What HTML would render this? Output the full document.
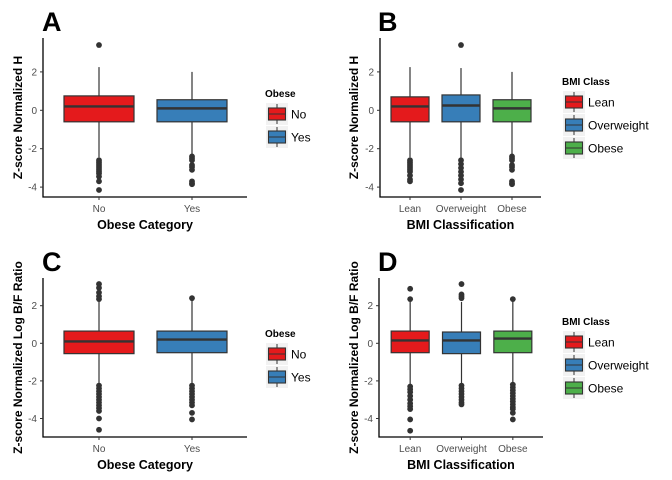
<!DOCTYPE html>
<html><head><meta charset="utf-8"><style>
body{margin:0;background:#fff}
svg{display:block;font-family:"Liberation Sans",sans-serif}
</style></head><body>
<svg id="chart" width="672" height="480" viewBox="0 0 672 480"></svg>
<script>
const panelLetters=["A","B","C","D"];
const categoriesA=["No","Yes"];
const categoriesB=["Lean","Overweight","Obese"];
const yTicks=[2,0,-2,-4];
const colors=["#E41A1C","#377EB8","#4DAF4A"];
// [q1, median, q3, lowWhisker, highWhisker]
const statsA=[[-0.6,0.2,0.75,-2.45,2.25],[-0.6,0.1,0.55,-2.3,2.0]];
const outliersA=[[3.4,-2.6,-2.7,-2.8,-2.9,-3.0,-3.1,-3.2,-3.3,-3.45,-3.7,-4.15],[-2.4,-2.5,-2.6,-2.85,-2.95,-3.1,-3.7,-3.8,-3.85]];
const statsB=[[-0.6,0.2,0.7,-2.45,2.25],[-0.6,0.25,0.8,-2.5,2.2],[-0.6,0.1,0.55,-2.3,2.0]];
const outliersB=[[-2.6,-2.7,-2.8,-2.9,-3.0,-3.1,-3.2,-3.4,-3.6,-3.7],[3.4,-2.6,-2.8,-3.0,-3.2,-3.4,-3.6,-3.8,-4.15],[-2.4,-2.5,-2.6,-2.85,-2.95,-3.1,-3.7,-3.8,-3.85]];
const statsC=[[-0.55,0.1,0.65,-2.2,2.3],[-0.5,0.2,0.65,-2.2,2.3]];
const outliersC=[[3.15,2.95,2.7,2.5,2.35,-2.25,-2.4,-2.55,-2.7,-2.85,-3.0,-3.15,-3.3,-3.45,-3.6,-4.0,-4.6],[2.4,-2.25,-2.4,-2.55,-2.7,-2.85,-3.0,-3.15,-3.3,-3.7,-4.05]];
const statsD=[[-0.5,0.15,0.65,-2.2,2.3],[-0.55,0.15,0.6,-2.2,2.2],[-0.5,0.25,0.65,-2.2,2.3]];
const outliersD=[[2.9,2.35,-2.3,-2.45,-2.6,-2.8,-3.0,-3.2,-3.35,-3.5,-4.05,-4.65],[3.15,2.6,2.5,2.4,-2.25,-2.4,-2.55,-2.7,-2.85,-3.0,-3.15,-3.25],[2.35,-2.2,-2.35,-2.5,-2.65,-2.8,-2.95,-3.1,-3.25,-3.4,-3.5,-3.7,-4.05]];
const yTitles=["Z-score Normalized H","Z-score Normalized H","Z-score Normalized Log B/F Ratio","Z-score Normalized Log B/F Ratio"];
const xTitles=["Obese Category","BMI Classification","Obese Category","BMI Classification"];
const legendTitles=["Obese","BMI Class","Obese","BMI Class"];

const NS="http://www.w3.org/2000/svg";
const svg=document.getElementById("chart");
function mk(tag,attrs,parent,text){const e=document.createElementNS(NS,tag);for(const k in attrs)e.setAttribute(k,attrs[k]);if(text!==undefined)e.textContent=text;parent.appendChild(e);return e;}

const layouts=[
 {ox:0,oy:0,ax0:43,ax1:247,c0:52.5,c1:238.5,top:38,bot:197,zero:110.3,k:19.2,bw:70,legX:266},
 {ox:336,oy:0,ax0:44,ax1:205,c0:48.5,c1:201.5,top:38,bot:197,zero:110.3,k:19.2,bw:38,legX:227},
 {ox:0,oy:240,ax0:43,ax1:247,c0:52.5,c1:238.5,top:38,bot:197,zero:103.3,k:18.8,bw:70,legX:266},
 {ox:336,oy:240,ax0:43,ax1:207,c0:48.5,c1:202.5,top:38,bot:197,zero:103.3,k:18.8,bw:38,legX:227}
];
const allStats=[statsA,statsB,statsC,statsD];
const allOut=[outliersA,outliersB,outliersC,outliersD];
const allCats=[categoriesA,categoriesB,categoriesA,categoriesB];

layouts.forEach((L,p)=>{
 const g=mk("g",{transform:`translate(${L.ox},${L.oy})`},svg);
 
 
 const cats=allCats[p],stats=allStats[p],outs=allOut[p];
 const n=cats.length;
 const step=(L.c1-L.c0)/n;
 const xs=i=>L.c0+step*(i+0.5);
 const ys=v=>L.zero-v*L.k;
 const lt=mk("text",{x:42,y:31,"font-size":27,"font-weight":"bold",fill:"#000"},g,panelLetters[p]);
 
 
 const ax=mk("path",{d:`M${L.ax0},${L.top}V${L.bot}H${L.ax1}`,stroke:"#000","stroke-width":1.3,fill:"none"},g);
 
 
 yTicks.forEach(t=>{
  mk("line",{x1:L.ax0-3,x2:L.ax0,y1:ys(t),y2:ys(t),stroke:"#333"},g);
  const tl=mk("text",{x:L.ax0-6,y:ys(t)+3.5,"font-size":10,fill:"#4d4d4d","text-anchor":"end"},g,t);
  
  
 });
 cats.forEach((c,i)=>{
  const x=xs(i),s=stats[i],col=colors[i];
  mk("line",{x1:x,x2:x,y1:L.bot,y2:L.bot+3,stroke:"#333"},g);
  const xl=mk("text",{x:x,y:L.bot+15,"font-size":10,fill:"#4d4d4d","text-anchor":"middle"},g,c);
  
  
  const bg=mk("g",{},g);
  
  
  mk("line",{x1:x,x2:x,y1:ys(s[4]),y2:ys(s[3]),stroke:"#333","stroke-width":1.2},bg);
  mk("rect",{x:x-L.bw/2,y:ys(s[2]),width:L.bw,height:ys(s[0])-ys(s[2]),fill:col,stroke:"#333","stroke-width":1.2},bg);
  mk("line",{x1:x-L.bw/2,x2:x+L.bw/2,y1:ys(s[1]),y2:ys(s[1]),stroke:"#333","stroke-width":2.4},bg);
  outs[i].forEach(v=>{
   const c2=mk("circle",{cx:x,cy:ys(v),r:2.9,fill:"#333"},bg);
   
   
  });
 });
 const yt=mk("text",{transform:`translate(22,${(L.top+L.bot)/2}) rotate(-90)`,"font-size":12,"font-weight":"bold","text-anchor":"middle",fill:"#000"},g,yTitles[p]);
 
 
 const xt=mk("text",{x:(L.ax0+L.ax1)/2,y:L.bot+32,"font-size":12.5,"font-weight":"bold","text-anchor":"middle",fill:"#000"},g,xTitles[p]);
 
 
 const lg=mk("g",{},g);
 
 
 const ly0=(n===2)?103:91;
 mk("text",{x:L.legX-1,y:ly0-6,"font-size":10,"font-weight":"bold",fill:"#000"},lg,legendTitles[p]);
 cats.forEach((c,i)=>{
  const ky=ly0+i*23;
  const e=mk("g",{},lg);
  
  
  mk("rect",{x:L.legX,y:ky,width:22,height:22,fill:"#f2f2f2"},e);
  mk("line",{x1:L.legX+11,x2:L.legX+11,y1:ky+1,y2:ky+21,stroke:"#333"},e);
  mk("rect",{x:L.legX+2.5,y:ky+5,width:17,height:12,fill:colors[i],stroke:"#333","stroke-width":1.1},e);
  mk("line",{x1:L.legX+2.5,x2:L.legX+19.5,y1:ky+11,y2:ky+11,stroke:"#333"},e);
  mk("text",{x:L.legX+25,y:ky+15.5,"font-size":12,fill:"#000"},e,c);
 });
});
</script>
</body></html>
